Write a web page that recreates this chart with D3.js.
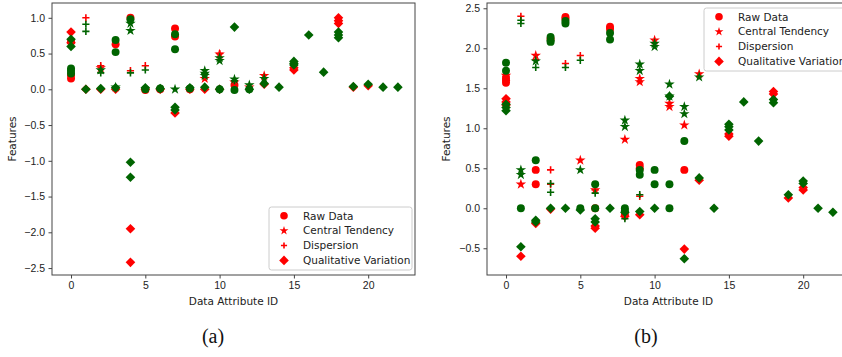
<!DOCTYPE html>
<html>
<head>
<meta charset="utf-8">
<script src="https://cdn.jsdelivr.net/npm/d3@7"></script>
<style>
  body { margin: 0; background: #fff; }
  svg { display: block; font-family: "DejaVu Sans", sans-serif; }
  .tick text { font-size: 10.5px; fill: #222; }
  .tick line { stroke: #444; }
  .domain { stroke: none; }
</style>
</head>
<body>
<script>
(function(){

//tick labels and legend entries
var xTicks = [0, 5, 10, 15, 20];
var yTicksA = [1.0, 0.5, 0.0, -0.5, -1.0, -1.5, -2.0, -2.5];
var yTicksB = [2.5, 2.0, 1.5, 1.0, 0.5, 0.0, -0.5];
var legendLabels = ["Raw Data", "Central Tendency", "Dispersion", "Qualitative Variation"];

//panel (a) values, [attribute id, feature value]
var aRawRed = [[0,0.67],[0,0.20],[0,0.15],[3,0.63],[4,1.00],[5,-0.01],[6,0.0],[7,0.85],[7,0.74],[8,0.0],[11,0.06]];
var aRawGreen = [[0,0.29],[0,0.26],[0,0.22],[3,0.69],[3,0.52],[4,0.98],[5,0.0],[6,0.01],[7,0.77],[7,0.56],[8,0.01],[10,0.0],[11,-0.01],[12,0.0]];
var aCentralRed = [[2,0.30],[9,0.15],[10,0.49],[11,0.10],[12,0.03],[13,0.19]];
var aCentralGreen = [[2,0.27],[3,0.03],[4,0.92],[4,0.82],[7,0.0],[9,0.26],[9,0.22],[9,0.19],[10,0.44],[10,0.40],[11,0.14],[12,0.06],[13,0.15]];
var aDispRed = [[1,1.0],[2,0.33],[4,0.26],[5,0.33],[10,0.50]];
var aDispGreen = [[1,0.91],[1,0.81],[2,0.23],[4,0.23],[5,0.27],[9,0.22],[11,0.12]];
var aQualRed = [[0,0.80],[0,0.65],[1,0.0],[2,0.0],[3,0.0],[4,-1.95],[4,-2.42],[5,0.0],[6,0.0],[7,-0.33],[8,0.0],[9,0.0],[10,0.0],[13,0.07],[15,0.30],[15,0.27],[18,1.0],[18,0.96],[18,0.92],[19,0.03],[20,0.05]];
var aQualGreen = [[0,0.70],[0,0.60],[1,0.0],[2,0.01],[3,0.02],[4,-1.02],[4,-1.23],[5,0.02],[6,0.01],[7,-0.25],[7,-0.29],[8,0.02],[9,0.03],[10,0.0],[11,0.87],[12,0.0],[13,0.08],[14,0.03],[15,0.39],[15,0.36],[15,0.34],[16,0.76],[17,0.24],[18,0.80],[18,0.76],[18,0.72],[19,0.04],[20,0.07],[21,0.03],[22,0.03]];

//panel (b) values
var bRawRed = [[0,1.63],[0,1.60],[0,1.57],[2,0.48],[2,0.30],[3,2.12],[4,2.39],[4,2.37],[6,0.0],[7,2.27],[7,2.24],[8,-0.07],[9,0.54],[9,0.50],[12,0.48]];
var bRawGreen = [[0,1.82],[0,1.72],[1,0.0],[2,0.60],[3,2.14],[3,2.10],[3,2.08],[4,2.34],[4,2.31],[5,0.0],[6,0.30],[6,0.0],[7,2.19],[7,2.11],[8,0.0],[8,-0.03],[9,0.48],[9,0.42],[10,0.48],[10,0.30],[11,0.30],[11,0.0],[12,0.84]];
var bCentralRed = [[0,1.66],[1,0.30],[2,1.91],[5,0.60],[6,0.23],[8,0.86],[9,1.62],[9,1.58],[10,2.10],[11,1.31],[11,1.27],[12,1.04],[13,1.68]];
var bCentralGreen = [[1,0.48],[1,0.42],[2,1.84],[5,0.48],[8,1.10],[8,1.02],[9,1.80],[9,1.72],[10,2.06],[10,2.02],[11,1.55],[11,1.40],[12,1.27],[12,1.18],[13,1.64]];
var bDispRed = [[0,1.65],[1,2.40],[2,1.86],[3,0.48],[3,0.30],[4,1.81],[5,1.91],[6,0.23],[9,0.15]];
var bDispGreen = [[1,2.35],[1,2.31],[2,1.76],[3,0.31],[3,0.20],[4,1.76],[5,1.85],[6,0.19],[8,-0.13],[9,0.17]];
var bQualRed = [[0,1.37],[0,1.33],[0,1.29],[1,-0.60],[2,-0.19],[3,-0.01],[6,-0.22],[6,-0.25],[8,-0.10],[9,-0.08],[12,-0.51],[13,0.35],[15,0.93],[15,0.90],[18,1.46],[18,1.43],[19,0.13],[20,0.26],[20,0.23]];
var bQualGreen = [[0,1.30],[0,1.26],[0,1.22],[1,-0.48],[2,-0.15],[2,-0.17],[3,0.0],[4,0.0],[5,-0.02],[6,-0.13],[6,-0.17],[7,0.0],[8,-0.05],[9,-0.04],[10,0.0],[11,1.40],[12,-0.63],[13,0.38],[14,0.0],[15,1.05],[15,1.02],[15,0.98],[16,1.33],[17,0.84],[18,1.36],[18,1.32],[19,0.17],[20,0.34],[20,0.31],[21,0.0],[22,-0.05]];

var red = "#ff0000",
    green = "#006400";

window.onload = setChart();

function setChart(){

    var width = 842,
        height = 357;

    var svg = d3.select("body")
        .append("svg")
        .attr("width", width)
        .attr("height", height);

    //panel (a)
    var panelA = {
        left: 52, top: 3, right: 415, bottom: 275,
        yDomain: [-2.597, 1.207], yTicks: yTicksA,
        labelX: 12, tag: "(a)", tagX: 213,
        legend: {x: 269, y: 207, w: 143},
        series: [
            [aRawRed, "circle", red], [aCentralRed, "star", red], [aDispRed, "plus", red], [aQualRed, "diamond", red],
            [aRawGreen, "circle", green], [aCentralGreen, "star", green], [aDispGreen, "plus", green], [aQualGreen, "diamond", green]
        ]
    };

    //panel (b), right side is cut by the picture edge
    var panelB = {
        left: 487, top: 3, right: 850, bottom: 275,
        yDomain: [-0.834, 2.566], yTicks: yTicksB,
        labelX: 446, tag: "(b)", tagX: 646,
        legend: {x: 704, y: 8, w: 143},
        series: [
            [bRawRed, "circle", red], [bCentralRed, "star", red], [bDispRed, "plus", red], [bQualRed, "diamond", red],
            [bRawGreen, "circle", green], [bCentralGreen, "star", green], [bDispGreen, "plus", green], [bQualGreen, "diamond", green]
        ]
    };

    drawPanel(svg, panelA);
    drawPanel(svg, panelB);
};

//marker path for each marker type
function markerPath(type, scale){
    var k = scale || 1;
    if (type == "circle") return d3.symbol().type(d3.symbolCircle).size(50 * k * k)();
    if (type == "star") return d3.symbol().type(d3.symbolStar).size(34 * k * k)();
    if (type == "plus"){
        var s = 3.6 * k;
        return "M" + (-s) + ",0H" + s + "M0," + (-s) + "V" + s;
    };
    var d = 4.8 * k; //square diamond like matplotlib "D"
    return "M0," + (-d) + "L" + d + ",0L0," + d + "L" + (-d) + ",0Z";
};

function styleMarker(sel, type, color){
    if (type == "plus"){
        sel.attr("fill", "none").attr("stroke", color).attr("stroke-width", 1.6);
    } else {
        sel.attr("fill", color).attr("stroke", "none");
    };
};

function drawPanel(svg, p){

    var x = d3.scaleLinear()
        .domain([-1.28, 23.15])
        .range([p.left, p.right]);

    var y = d3.scaleLinear()
        .domain(p.yDomain)
        .range([p.bottom, p.top]);

    var minus = function(d){ return d3.format(".1f")(d).replace("-", "\u2212"); };

    //axes
    svg.append("g")
        .attr("transform", "translate(0," + p.bottom + ")")
        .call(d3.axisBottom(x).tickValues(xTicks).tickSize(3.5).tickPadding(3.5).tickFormat(d3.format("d")));

    svg.append("g")
        .attr("transform", "translate(" + p.left + ",0)")
        .call(d3.axisLeft(y).tickValues(p.yTicks).tickSize(3.5).tickPadding(3.5).tickFormat(minus));

    //markers, red first then green on top
    p.series.forEach(function(s){
        var g = svg.append("g");
        var marks = g.selectAll("path")
            .data(s[0])
            .enter()
            .append("path")
            .attr("d", markerPath(s[1]))
            .attr("transform", function(d){
                return "translate(" + x(d[0]) + "," + y(d[1]) + ")";
            });
        styleMarker(marks, s[1], s[2]);
    });

    //frame
    svg.append("rect")
        .attr("x", p.left)
        .attr("y", p.top)
        .attr("width", p.right - p.left)
        .attr("height", p.bottom - p.top)
        .attr("fill", "none")
        .attr("stroke", "#444")
        .attr("stroke-width", 1);

    //axis titles
    svg.append("text")
        .attr("x", (p.left + p.right) / 2)
        .attr("y", 305)
        .attr("text-anchor", "middle")
        .style("font-size", "10.5px")
        .style("fill", "#222")
        .text("Data Attribute ID");

    svg.append("text")
        .attr("transform", "translate(" + (p.labelX + 4) + "," + ((p.top + p.bottom) / 2) + ") rotate(-90)")
        .attr("text-anchor", "middle")
        .style("font-size", "10.5px")
        .style("fill", "#222")
        .text("Features");

    //panel tag
    svg.append("text")
        .attr("x", p.tagX)
        .attr("y", 343)
        .attr("text-anchor", "middle")
        .style("font-family", "'Liberation Serif', 'Times New Roman', serif")
        .style("font-size", "20px")
        .style("fill", "#111")
        .text(p.tag);

    drawLegend(svg, p.legend);
};

function drawLegend(svg, lg){

    var types = ["circle", "star", "plus", "diamond"];
    var scales = [0.95, 0.85, 0.85, 1.0];

    svg.append("rect")
        .attr("x", lg.x)
        .attr("y", lg.y)
        .attr("width", lg.w)
        .attr("height", 63)
        .attr("rx", 2.5)
        .attr("fill", "#fff")
        .attr("fill-opacity", 0.8)
        .attr("stroke", "#ccc")
        .attr("stroke-width", 1);

    legendLabels.forEach(function(label, i){
        var cy = lg.y + 8.7 + i * 14.9;
        var m = svg.append("path")
            .attr("d", markerPath(types[i], scales[i]))
            .attr("transform", "translate(" + (lg.x + 15) + "," + cy + ")");
        styleMarker(m, types[i], red);

        svg.append("text")
            .attr("x", lg.x + 34)
            .attr("y", cy + 3.8)
            .style("font-size", "10.5px")
            .style("fill", "#222")
            .text(label);
    });
};

})();
</script>
</body>
</html>
